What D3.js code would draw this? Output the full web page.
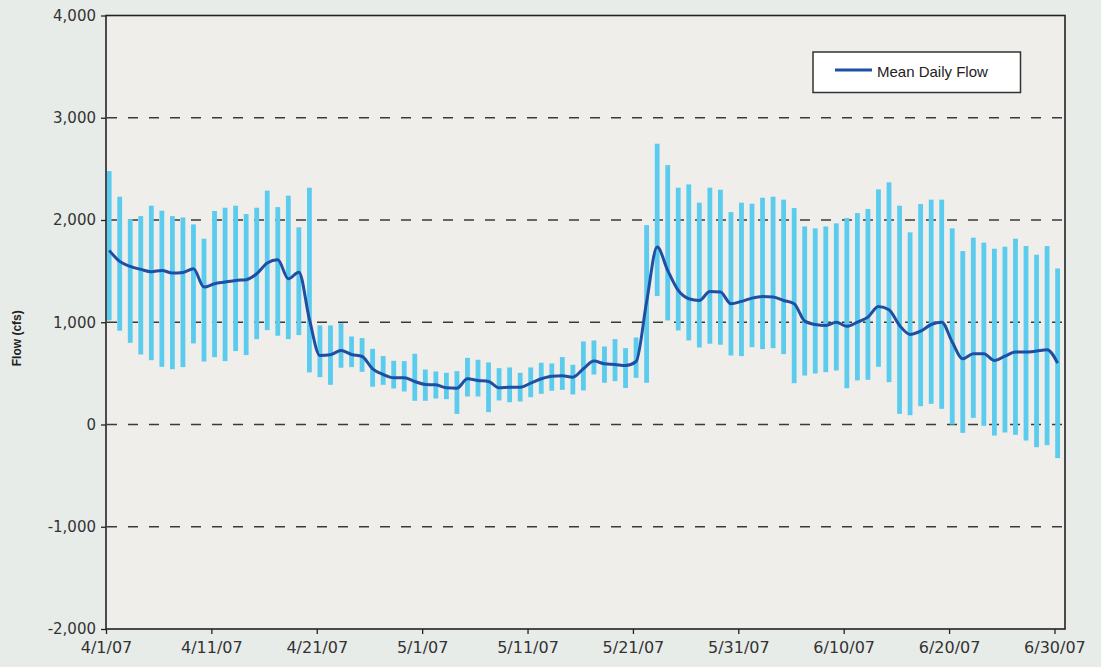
<!DOCTYPE html>
<html>
<head>
<meta charset="utf-8">
<script src="https://cdn.jsdelivr.net/npm/d3@7"></script>
<style>
  html, body { margin: 0; padding: 0; background: #E8ECE9; }
  svg { display: block; }
</style>
</head>
<body>
<svg id="chart" width="1101" height="667"></svg>
<script>
// ---- data ----
const startDate = new Date(2007, 3, 1);
const endDate = new Date(2007, 6, 1);
const days = d3.timeDay.range(startDate, new Date(2007, 5, 31)); // 4/1/07 .. 6/30/07

const dailyHigh = [
  2478, 2228, 2009, 2038, 2140, 2091, 2038, 2025, 1957, 1817,
  2088, 2120, 2140, 2058, 2120, 2287, 2126, 2238, 1928, 2316,
  969, 969, 991, 861, 845, 740, 669, 623, 620, 692,
  538, 519, 506, 522, 652, 633, 607, 551, 558, 506,
  558, 604, 597, 659, 584, 812, 822, 763, 835, 747,
  851, 1950, 2746, 2537, 2316, 2348, 2169, 2316, 2296, 2077,
  2169, 2159, 2218, 2228, 2199, 2117, 1937, 1918, 1937, 1967,
  2019, 2068, 2107, 2299, 2368, 2140, 1879, 2156, 2199, 2199,
  1918, 1696, 1827, 1778, 1719, 1739, 1817, 1745, 1660, 1745, 1526
];
const dailyLow = [
  1018, 917, 799, 685, 629, 564, 541, 561, 793, 616,
  659, 620, 718, 679, 835, 923, 868, 835, 874, 510,
  463, 388, 555, 561, 515, 369, 388, 352, 323, 232,
  232, 254, 248, 104, 274, 274, 121, 235, 218, 225,
  267, 300, 330, 339, 294, 333, 489, 408, 424, 357,
  457, 408, 1256, 1018, 920, 822, 753, 790, 780, 675,
  669, 757, 737, 747, 688, 404, 479, 499, 512, 528,
  355, 431, 437, 564, 414, 104, 91, 179, 202, 153,
  0, -82, 65, -13, -108, -78, -101, -157, -222, -202, -329
];
const meanDailyFlow = [
  1703, 1595, 1546, 1517, 1494, 1507, 1481, 1487, 1523, 1344,
  1377, 1393, 1409, 1416, 1474, 1579, 1611, 1425, 1490, 1030,
  675, 682, 724, 685, 665, 545, 489, 457, 457, 421,
  391, 388, 359, 355, 447, 431, 421, 359, 365, 365,
  404, 447, 473, 476, 463, 545, 620, 594, 587, 577,
  616, 1200, 1735, 1507, 1311, 1230, 1213, 1301, 1295, 1181,
  1204, 1236, 1252, 1246, 1213, 1181, 1011, 978, 969, 1001,
  960, 1001, 1050, 1155, 1122, 969, 881, 913, 978, 1001,
  806, 643, 692, 692, 626, 669, 708, 708, 718, 731, 600
];
const yTicks = [4000, 3000, 2000, 1000, 0, -1000, -2000];
const yTickLabels = ["4,000", "3,000", "2,000", "1,000", "0", "-1,000", "-2,000"];
const gridValues = [3000, 2000, 1000, 0, -1000];
const xTickLabels = ["4/1/07","4/11/07","4/21/07","5/1/07","5/11/07","5/21/07","5/31/07","6/10/07","6/20/07","6/30/07"];
const xTickDates = xTickLabels.map(s => d3.timeParse("%m/%d/%y")(s));
const legendLabel = "Mean Daily Flow";
const yTitle = "Flow (cfs)";

// ---- layout ----
const L = 106, R = 1065, T = 15.5, B = 629;
const svg = d3.select("#chart");
const x = d3.scaleTime().domain([startDate, endDate]).range([L, R]);
const y = d3.scaleLinear().domain([-2000, 4000]).range([B, T]);
const dayW = x(new Date(2007, 3, 2)) - x(startDate);
const cx = d => x(d) + dayW * 0.3;

// plot background
svg.append("rect").attr("x", L).attr("y", T).attr("width", R - L).attr("height", B - T)
  .attr("fill", "#EFEEEA");

// grid
svg.append("g").selectAll("line").data(gridValues).join("line")
  .attr("x1", L + 1).attr("x2", R)
  .attr("y1", d => y(d)).attr("y2", d => y(d))
  .attr("stroke", "#3a3a3a").attr("stroke-width", 1.3)
  .attr("stroke-dasharray", "10,11");

// bars (daily range)
const rows = days.map((d, i) => ({ date: d, hi: dailyHigh[i], lo: dailyLow[i], mean: meanDailyFlow[i] }));
svg.append("g").selectAll("rect").data(rows).join("rect")
  .attr("x", d => cx(d.date) - 2.4)
  .attr("width", 4.8)
  .attr("y", d => y(d.hi))
  .attr("height", d => y(d.lo) - y(d.hi))
  .attr("fill", "#5BCBEE");

// mean line
const line = d3.line().x(d => cx(d.date)).y(d => y(d.mean)).curve(d3.curveMonotoneX);
svg.append("path").datum(rows).attr("d", line)
  .attr("fill", "none").attr("stroke", "#1F4FA3").attr("stroke-width", 3)
  .attr("stroke-linejoin", "round");

// border
svg.append("rect").attr("x", L).attr("y", T).attr("width", R - L).attr("height", B - T)
  .attr("fill", "none").attr("stroke", "#222").attr("stroke-width", 1.6);

// axes
const yAxis = d3.axisLeft(y).tickValues(yTicks).tickSize(5).tickPadding(5)
  .tickFormat((d, i) => yTickLabels[i]);
const gy = svg.append("g").attr("transform", `translate(${L},0)`).call(yAxis);
gy.select(".domain").remove();
gy.selectAll(".tick line").attr("stroke", "#222").attr("stroke-width", 1.3);
gy.selectAll(".tick text").attr("fill", "#333").style("font-family", "DejaVu Sans").style("font-size", "15px");

const xAxis = d3.axisBottom(x).tickValues(xTickDates).tickSize(5).tickPadding(8)
  .tickFormat((d, i) => xTickLabels[i]);
const gx = svg.append("g").attr("transform", `translate(0,${B})`).call(xAxis);
gx.select(".domain").remove();
gx.selectAll(".tick line").attr("stroke", "#222").attr("stroke-width", 1.3);
gx.selectAll(".tick text").attr("fill", "#333").style("font-family", "DejaVu Sans").style("font-size", "16px");

// y title
svg.append("text").attr("transform", `translate(21,${(T + B) / 2 + 16}) rotate(-90)`)
  .attr("text-anchor", "middle")
  .style("font-family", "Liberation Sans, Arial").style("font-weight", "bold").style("font-size", "12px")
  .attr("fill", "#222").text(yTitle);

// legend
const lg = svg.append("g");
lg.append("rect").attr("x", 813).attr("y", 52).attr("width", 207.5).attr("height", 40.5)
  .attr("fill", "#fff").attr("stroke", "#333").attr("stroke-width", 1.5);
lg.append("line").attr("x1", 835).attr("x2", 872).attr("y1", 70).attr("y2", 70)
  .attr("stroke", "#1F4FA3").attr("stroke-width", 3);
lg.append("text").attr("x", 877).attr("y", 77)
  .style("font-family", "Liberation Sans, Arial").style("font-size", "15px")
  .attr("fill", "#222").text(legendLabel);
</script>
</body>
</html>
